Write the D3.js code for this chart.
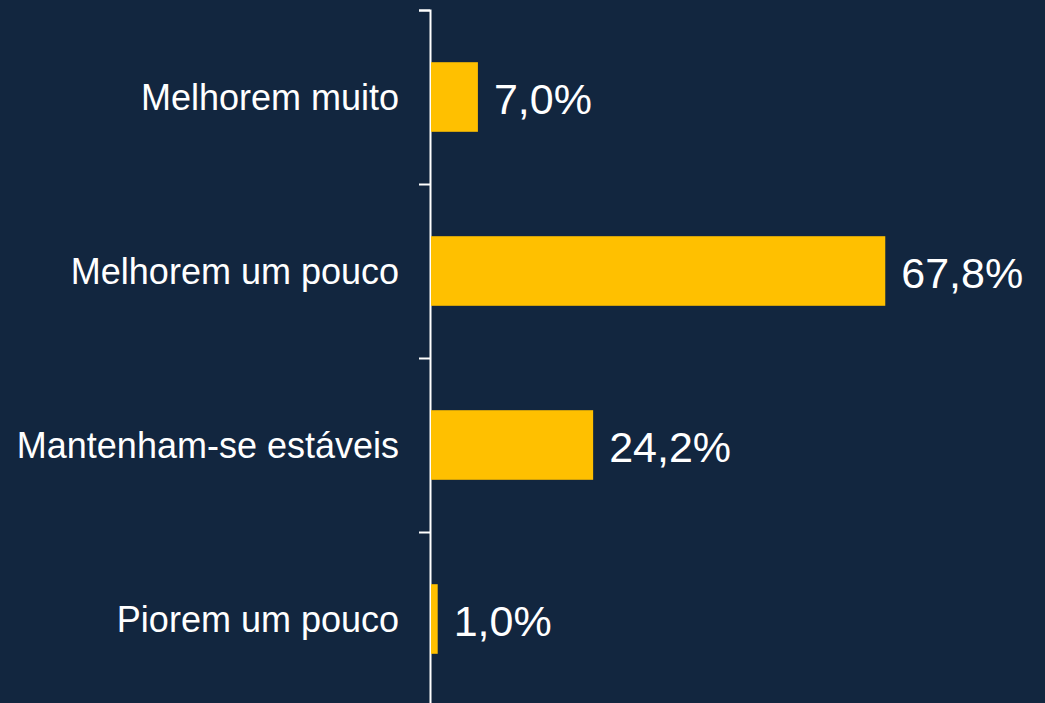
<!DOCTYPE html>
<html>
<head>
<meta charset="utf-8">
<script src="https://cdn.jsdelivr.net/npm/d3@7"></script>
<style>
  body { margin: 0; background: #12263f; }
  svg { display: block; }
</style>
</head>
<body>
<script>
var categories = ["Melhorem muito", "Melhorem um pouco", "Mantenham-se estáveis", "Piorem um pouco"];
var values = [7.0, 67.8, 24.2, 1.0];
var valueLabels = ["7,0%", "67,8%", "24,2%", "1,0%"];

var w = 1045;
var h = 703;

var svg = d3.select("body").append("svg")
    .attr("width", w)
    .attr("height", h);

svg.append("rect")
    .attr("width", w)
    .attr("height", h)
    .attr("fill", "#12263f");

var xScale = d3.scaleLinear()
    .domain([0, 80])
    .range([431, 967]);

var yScale = d3.scaleBand()
    .domain(categories)
    .range([10, 706])
    .paddingInner(0.6)
    .paddingOuter(0.3);

// axis with ticks between the categories
var boundary = d3.scaleLinear()
    .domain([0, categories.length])
    .range([10, 706]);

var yAxis = d3.axisLeft(boundary)
    .tickValues(d3.range(0, categories.length + 1))
    .tickSize(11)
    .tickFormat("");

var axisG = svg.append("g")
    .attr("transform", "translate(430,0)")
    .call(yAxis);
axisG.selectAll("path, line")
    .attr("stroke", "#ffffff")
    .attr("stroke-width", 2);

svg.selectAll("rect.bar")
    .data(values)
    .enter()
    .append("rect")
    .attr("class", "bar")
    .attr("x", xScale(0))
    .attr("y", function(d, i) { return yScale(categories[i]); })
    .attr("width", function(d) { return xScale(d) - xScale(0); })
    .attr("height", yScale.bandwidth())
    .attr("fill", "#ffc000");

// category labels
svg.selectAll("text.cat")
    .data(categories)
    .enter()
    .append("text")
    .attr("class", "cat")
    .attr("x", 399)
    .attr("y", function(d) { return yScale(d) + yScale.bandwidth() / 2; })
    .attr("dy", "0.35em")
    .attr("text-anchor", "end")
    .attr("font-family", "Liberation Sans, Arial, sans-serif")
    .attr("font-size", 36)
    .attr("fill", "#ffffff")
    .text(function(d) { return d; });

// value labels
svg.selectAll("text.val")
    .data(values)
    .enter()
    .append("text")
    .attr("class", "val")
    .attr("x", function(d) { return xScale(d) + 16; })
    .attr("y", function(d, i) { return yScale(categories[i]) + yScale.bandwidth() / 2; })
    .attr("dy", "0.4em")
    .attr("font-family", "Liberation Sans, Arial, sans-serif")
    .attr("font-size", 43)
    .attr("fill", "#ffffff")
    .text(function(d, i) { return valueLabels[i]; });
</script>
</body>
</html>
